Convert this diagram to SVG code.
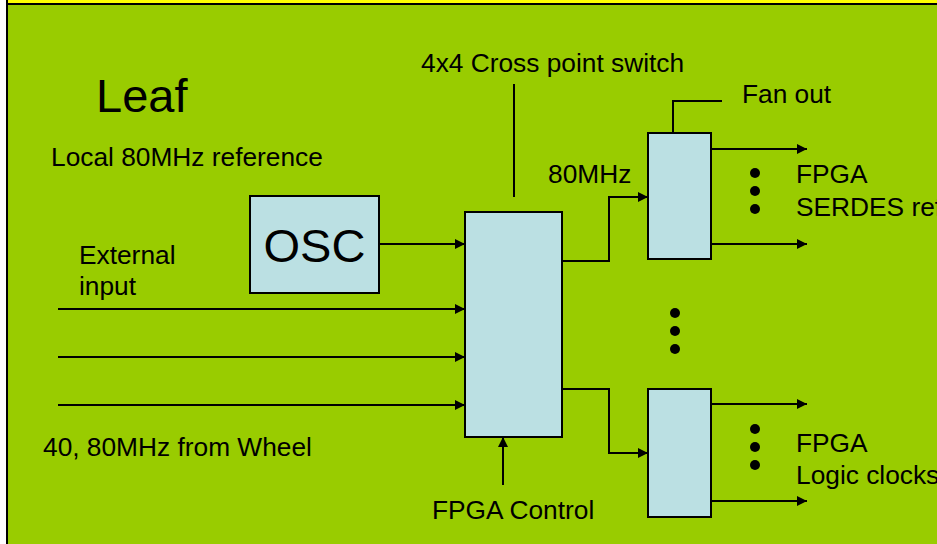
<svg xmlns="http://www.w3.org/2000/svg" width="937" height="544" viewBox="0 0 937 544">
<defs>
<style>
.t{font-family:"Liberation Sans",Arial,sans-serif;fill:#000;font-size:26.3px}
.big{font-size:47px}
.box{fill:#BBE0E3;stroke:#000;stroke-width:2}
.ln{fill:none;stroke:#000;stroke-width:2}
.dot{fill:#000}
</style>
<marker id="ah" viewBox="0 0 10 10" refX="10" refY="5" markerWidth="5" markerHeight="5" orient="auto" markerUnits="strokeWidth">
<path d="M0,0 L10,5 L0,10 Z" fill="#000"/>
</marker>
</defs>
<rect x="0" y="0" width="937" height="544" fill="#fff"/>
<rect x="7" y="-10" width="940" height="14" fill="#FFFF00" stroke="#000" stroke-width="2"/>
<rect x="7" y="4" width="940" height="550" fill="#99CC00" stroke="#000" stroke-width="2"/>

<g id="labels">
<text class="t big" x="96" y="112">Leaf</text>
<text class="t" x="51" y="166">Local 80MHz reference</text>
<text class="t" x="79" y="264">External</text>
<text class="t" x="79" y="295">input</text>
<text class="t" x="43" y="456">40, 80MHz from Wheel</text>
<text class="t" x="421" y="72">4x4 Cross point switch</text>
<text class="t" x="548" y="183">80MHz</text>
<text class="t" x="742" y="103">Fan out</text>
<text class="t" x="796" y="183">FPGA</text>
<text class="t" x="796" y="216">SERDES ref</text>
<text class="t" x="796" y="452">FPGA</text>
<text class="t" x="796" y="484">Logic clocks</text>
<text class="t" x="432" y="519">FPGA Control</text>
</g>

<g id="osc">
<rect class="box" x="250" y="196" width="129" height="97"/>
<text class="t big" x="314.5" y="262" text-anchor="middle">OSC</text>
</g>
<g id="switch">
<rect class="box" x="465" y="212" width="97" height="225"/>
</g>
<g id="fanout-top">
<rect class="box" x="648" y="133" width="63" height="126"/>
</g>
<g id="fanout-bottom">
<rect class="box" x="648" y="389" width="63" height="128"/>
</g>

<g id="connectors">
<line class="ln" x1="379" y1="244" x2="465" y2="244" marker-end="url(#ah)"/>
<line class="ln" x1="58" y1="309" x2="465" y2="309" marker-end="url(#ah)"/>
<line class="ln" x1="58" y1="357" x2="465" y2="357" marker-end="url(#ah)"/>
<line class="ln" x1="58" y1="405" x2="465" y2="405" marker-end="url(#ah)"/>
<line class="ln" x1="514" y1="84" x2="514" y2="197"/>
<line class="ln" x1="503" y1="485" x2="503" y2="437" marker-end="url(#ah)"/>
<polyline class="ln" points="562,261 609,261 609,197 648,197" marker-end="url(#ah)"/>
<polyline class="ln" points="562,389 609,389 609,453 648,453" marker-end="url(#ah)"/>
<polyline class="ln" points="673,133 673,101 722,101"/>
<line class="ln" x1="711" y1="149" x2="807" y2="149" marker-end="url(#ah)"/>
<line class="ln" x1="711" y1="244" x2="807" y2="244" marker-end="url(#ah)"/>
<line class="ln" x1="711" y1="404" x2="807" y2="404" marker-end="url(#ah)"/>
<line class="ln" x1="711" y1="501" x2="807" y2="501" marker-end="url(#ah)"/>
</g>

<g id="dots">
<circle class="dot" cx="755" cy="173" r="5"/>
<circle class="dot" cx="755" cy="191" r="5"/>
<circle class="dot" cx="755" cy="209" r="5"/>
<circle class="dot" cx="675" cy="313" r="5"/>
<circle class="dot" cx="675" cy="331" r="5"/>
<circle class="dot" cx="675" cy="349" r="5"/>
<circle class="dot" cx="755" cy="429" r="5"/>
<circle class="dot" cx="755" cy="447" r="5"/>
<circle class="dot" cx="755" cy="465" r="5"/>
</g>
</svg>
